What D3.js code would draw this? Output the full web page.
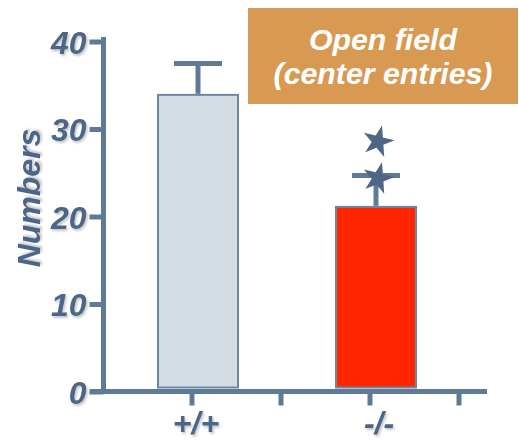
<!DOCTYPE html>
<html><head><meta charset="utf-8">
<script src="https://cdn.jsdelivr.net/npm/d3@7"></script>
<style>
body{margin:0;background:#fff;}
svg{display:block;}
text{font-family:"Liberation Sans",Arial,sans-serif;font-weight:bold;font-style:italic;}
</style></head>
<body><svg id="c" width="519" height="440"></svg>
<script>
const categories = ["+/+", "-/-"];
const means = [33.9, 21.1];
const errors = [3.6, 3.6];
const yTicks = [0, 10, 20, 30, 40];
const starCategory = "-/-";
const starValues = [24.6, 28.8];
const titleLines = ["Open field", "(center entries)"];
const yLabel = "Numbers";
const barFills = ["#d3dbe3", "#ff2600"];

const axisColor = "#5f7a97";
const textColor = "#4c6686";

const svg = d3.select("#c");
const defs = svg.append("defs");
const f = defs.append("filter").attr("id","sh").attr("x","-20%").attr("y","-20%").attr("width","150%").attr("height","150%");
f.append("feDropShadow").attr("dx",1.5).attr("dy",2).attr("stdDeviation",1.2).attr("flood-color","#000").attr("flood-opacity",0.22);

const y = d3.scaleLinear().domain([0, 40]).range([391.5, 41.5]);
const x = d3.scaleBand().domain(categories).range([103, 459]).padding(0);
const cx = c => x(c) + x.bandwidth()/2;
const barW = 80, barOff = 6;

// bars
svg.selectAll("rect.bar").data(categories).join("rect")
  .attr("class","bar")
  .attr("x", c => cx(c) + barOff - barW/2)
  .attr("y", (c,i) => y(means[i]))
  .attr("width", barW)
  .attr("height", (c,i) => y(0) - 4 - y(means[i]))
  .attr("fill", (c,i) => barFills[i])
  .attr("stroke", "#6d87a3").attr("stroke-width", 2);

// error bars
categories.forEach((c,i) => {
  const xc = cx(c) + barOff;
  svg.append("line").attr("x1", xc).attr("x2", xc)
    .attr("y1", y(means[i]) - 1).attr("y2", y(means[i]+errors[i]))
    .attr("stroke", axisColor).attr("stroke-width", 5);
  svg.append("line").attr("x1", xc-24).attr("x2", xc+24)
    .attr("y1", y(means[i]+errors[i])).attr("y2", y(means[i]+errors[i]))
    .attr("stroke", axisColor).attr("stroke-width", 5);
});

// stars
const star = d3.symbol().type(d3.symbolStar).size(310);
svg.selectAll("path.star").data(starValues).join("path")
  .attr("class","star")
  .attr("d", star())
  .attr("transform", v => `translate(${cx(starCategory)+barOff+2},${y(v)+2}) rotate(14)`)
  .attr("fill", "#4e6784");

// y axis
const gy = svg.append("g").attr("transform","translate(103.5,0)")
  .call(d3.axisLeft(y).tickValues(yTicks).tickSize(14).tickPadding(4).tickFormat(d3.format("d")));
gy.select(".domain").attr("d", `M0,${y(40)-4.5}V${y(0)+2.5}`).attr("stroke", axisColor).attr("stroke-width", 5);
gy.selectAll(".tick line").attr("stroke", axisColor).attr("stroke-width", 5);
gy.selectAll(".tick text").attr("fill", textColor).attr("font-size", 32).attr("dy","0.36em").attr("x",-17).attr("filter","url(#sh)");

// x axis
const gx = svg.append("g").attr("transform", `translate(0,${y(0)})`);
gx.append("line").attr("x1", 90).attr("x2", 487).attr("stroke", axisColor).attr("stroke-width", 5);
const tickXs = categories.map(c => cx(c)).concat(categories.map(c => x(c) + x.bandwidth()));
gx.selectAll("line.t").data(tickXs).join("line").attr("class","t")
  .attr("x1", d => d).attr("x2", d => d).attr("y1", 0).attr("y2", 14)
  .attr("stroke", axisColor).attr("stroke-width", 5);
gx.selectAll("text").data(categories).join("text")
  .attr("x", (c,i) => cx(c) + (i === 0 ? 4 : 9)).attr("y", 42)
  .attr("text-anchor","middle").attr("font-size", 32).attr("fill", textColor)
  .attr("filter","url(#sh)")
  .text(d => d);

// y label
svg.append("text").attr("transform","translate(40,198) rotate(-90)")
  .attr("text-anchor","middle").attr("font-size", 32).attr("fill", textColor)
  .attr("filter","url(#sh)")
  .text(yLabel);

// title box
svg.append("rect").attr("x", 248).attr("y", 8).attr("width", 270).attr("height", 96).attr("fill", "#d89a53");
svg.selectAll("text.title").data(titleLines).join("text").attr("class","title")
  .attr("x", 383).attr("y", (d,i) => 49.5 + i*34)
  .attr("text-anchor","middle").attr("font-size", 30.3).attr("fill", "#fff")
  .text(d => d);
</script></body></html>
